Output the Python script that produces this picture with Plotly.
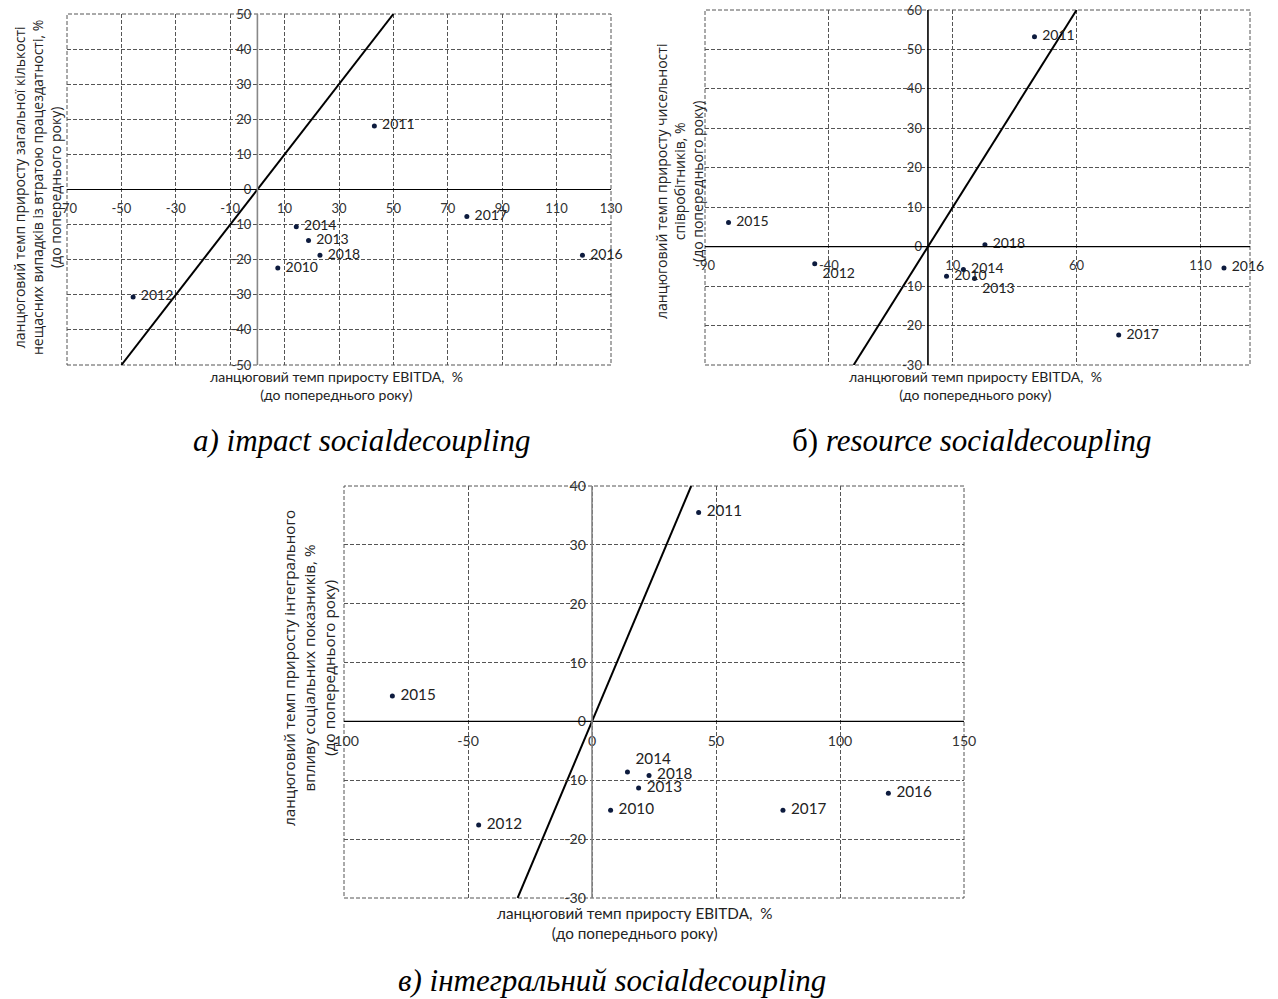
import plotly.graph_objects as go

# ---------------- data ----------------
years = ["2010", "2011", "2012", "2013", "2014", "2015", "2016", "2017", "2018"]
ebitda = [7.5, 43.0, -45.7, 18.8, 14.3, -80.5, 119.5, 77.0, 23.0]
impact = [-22.4, 18.1, -30.6, -14.5, -10.6, None, -18.7, -7.7, -18.7]
resource = [-7.5, 53.2, -4.3, -8.1, -5.8, 6.1, -5.4, -22.4, 0.5]
integral = [-15.1, 35.5, -17.6, -11.3, -8.6, 4.3, -12.2, -15.1, -9.2]

x_title = "ланцюговий темп приросту EBITDA,  %<br>(до попереднього року)"
y_title_a = "ланцюговий темп приросту загальної кількості<br>нещасних випадків із втратою працездатності, %<br>(до попереднього року)"
y_title_b = "ланцюговий темп приросту чисельності<br>співробітників, %<br>(до попереднього року)"
y_title_c = "ланцюговий темп приросту інтегрального<br>впливу соціальних показників, %<br>(до попереднього року)"
captions = ["<i>а) impact socialdecoupling</i>",
            "б) <i>resource socialdecoupling</i>",
            "<i>в) інтегральний socialdecoupling</i>"]

# ---------------- layout helpers ----------------
W, H = 1278, 999
def px(x): return x / W
def py(y): return 1 - y / H

GRID = "#555555"
TICK_FAM = "Liberation Sans Narrow, Lato, sans-serif"
LBL_FAM = "Lato, sans-serif"
YT_FAM = "Open Sans, sans-serif"
CAP_FONT = dict(family="Liberation Serif, serif", size=31, color="#000000")

def ticks(start, stop, step):
    vals = []
    v = start
    while v <= stop + 1e-9:
        vals.append(v)
        v += step
    return vals

panels = [
    dict(ys=impact, xr=(-70, 130), xt0=-70, xdt=20, yr=(-50, 50), ydt=10,
         box=(67, 611, 14, 365), ycol="#888888", fs=1.0,
         tpos=["middle right"] * 9,
         ytitle=y_title_a, ytx=38, yty=188, xtx=336, xty=386, cap=captions[0], capx=362, capy=440),
    dict(ys=resource, xr=(-90, 130), xt0=-90, xdt=50, yr=(-30, 60), ydt=10,
         box=(705, 1250, 10, 365), ycol="#000000", fs=1.0,
         tpos=["middle right", "middle right", "bottom right", "bottom right", "middle right",
               "middle right", "middle right", "middle right", "middle right"],
         ytitle=y_title_b, ytx=679, yty=182, xtx=975, xty=385, cap=captions[1], capx=972, capy=440),
    dict(ys=integral, xr=(-100, 150), xt0=-100, xdt=50, yr=(-30, 40), ydt=10,
         box=(344, 964, 486, 898), ycol="#888888", fs=1.09,
         tpos=["middle right", "middle right", "middle right", "middle right", "top right",
               "middle right", "middle right", "middle right", "middle right"],
         ytitle=y_title_c, ytx=309, yty=668, xtx=634, xty=923, cap=captions[2], capx=612, capy=980),
]

fig = go.Figure()
layout = dict(width=W, height=H, margin=dict(l=0, r=0, t=0, b=0, pad=0), autosize=False,
              paper_bgcolor="white", plot_bgcolor="white", showlegend=False)
shapes, annotations = [], []

for i, p in enumerate(panels, start=1):
    sfx = "" if i == 1 else str(i)
    xa, ya = "x" + sfx, "y" + sfx
    fs = p["fs"]
    tick_font = dict(family=TICK_FAM, size=13 * fs, color="#333333")
    lbl_font = dict(family=LBL_FAM, size=14 * fs, color="#222222")
    xt_font = dict(family=TICK_FAM, size=14 * fs, color="#222222")
    yt_font = dict(family=YT_FAM, size=14 * fs, color="#222222")

    x0, x1, y0, y1 = p["box"]
    xd = [px(x0), px(x1)]
    yd = [py(y1), py(y0)]
    xmin, xmax = p["xr"]
    ymin, ymax = p["yr"]
    xpos = yd[0] + (0 - ymin) / (ymax - ymin) * (yd[1] - yd[0])
    ypos = xd[0] + (0 - xmin) / (xmax - xmin) * (xd[1] - xd[0])
    xt = ticks(p["xt0"], xmax, p["xdt"])
    yt = ticks(ymin, ymax, p["ydt"])

    layout["xaxis" + sfx] = dict(
        domain=xd, range=list(p["xr"]), anchor="free", position=xpos, automargin=False,
        tickmode="array", tickvals=xt, ticktext=[str(v) for v in xt], ticks="", showline=False,
        ticklabelstandoff=9, ticklabeloverflow="allow",
        showgrid=True, gridcolor=GRID, griddash="4px,2px", gridwidth=1,
        zeroline=False, tickfont=tick_font, fixedrange=True)
    layout["yaxis" + sfx] = dict(
        domain=yd, range=list(p["yr"]), anchor="free", position=ypos, automargin=False,
        tickmode="array", tickvals=yt, ticktext=[str(v) for v in yt], ticks="", showline=False,
        ticklabelstandoff=6, ticklabeloverflow="allow",
        showgrid=True, gridcolor=GRID, griddash="4px,2px", gridwidth=1,
        zeroline=False, tickfont=tick_font, fixedrange=True)

    # dashed frame
    shapes.append(dict(type="rect", xref=xa + " domain", yref=ya + " domain",
                       x0=0, x1=1, y0=0, y1=1, line=dict(color=GRID, width=1, dash="4px,2px"),
                       layer="below"))
    # axis lines through zero
    shapes.append(dict(type="line", xref=xa + " domain", yref=ya, x0=0, x1=1, y0=0, y1=0,
                       line=dict(color="#000000", width=1.2)))
    shapes.append(dict(type="line", xref=xa, yref=ya + " domain", x0=0, x1=0, y0=0, y1=1,
                       line=dict(color=p["ycol"], width=1.6)))

    # y = x reference line within plot range
    lo, hi = max(xmin, ymin), min(xmax, ymax)
    fig.add_trace(go.Scatter(x=[lo, hi], y=[lo, hi], mode="lines", xaxis=xa, yaxis=ya,
                             line=dict(color="#000000", width=2), hoverinfo="skip"))
    fig.add_trace(go.Scatter(x=ebitda, y=p["ys"], mode="markers+text", text=years,
                             texttemplate=" %{text}",
                             textposition=p["tpos"], textfont=lbl_font, xaxis=xa, yaxis=ya,
                             marker=dict(size=5, color="#0d1b3e"), cliponaxis=False))

    annotations.append(dict(xref="paper", yref="paper", x=px(p["ytx"]), y=py(p["yty"]),
                            text=p["ytitle"], textangle=-90, showarrow=False, font=yt_font,
                            xanchor="center", yanchor="middle"))
    annotations.append(dict(xref="paper", yref="paper", x=px(p["xtx"]), y=py(p["xty"]),
                            text=x_title, showarrow=False, font=xt_font,
                            xanchor="center", yanchor="middle"))
    annotations.append(dict(xref="paper", yref="paper", x=px(p["capx"]), y=py(p["capy"]),
                            text=p["cap"], showarrow=False, font=CAP_FONT,
                            xanchor="center", yanchor="middle"))

layout["shapes"] = shapes
layout["annotations"] = annotations
fig.update_layout(**layout)
fig.write_html("out.html", config={"displayModeBar": False},
               post_script="document.body.style.margin='0';")
